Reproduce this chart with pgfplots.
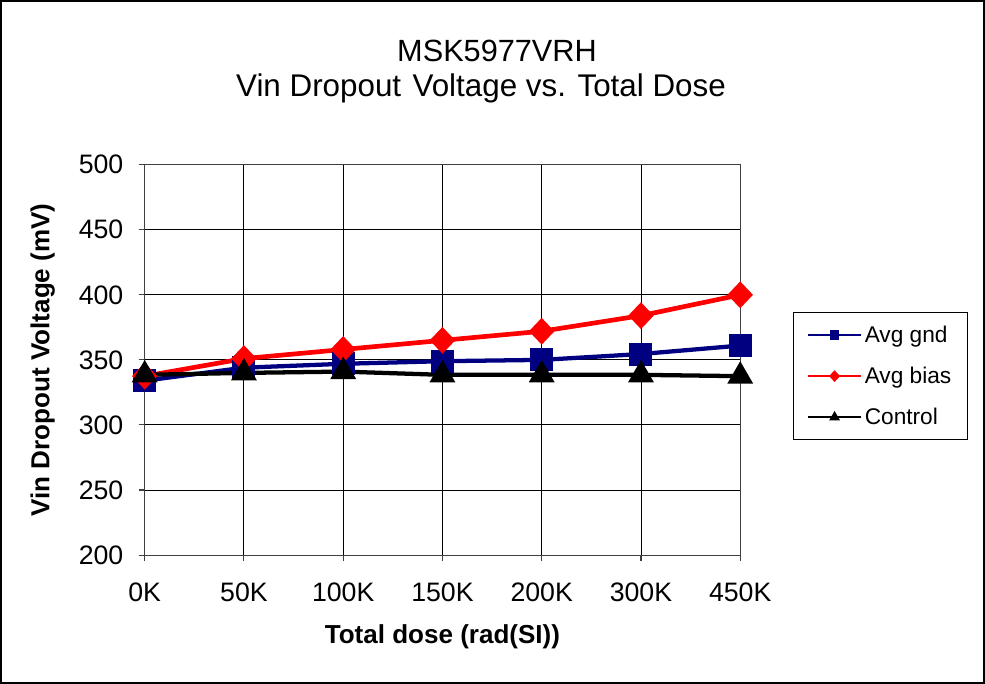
\documentclass[border=0pt]{standalone}
\usepackage{pgfplots}
\pgfplotsset{compat=1.18}
\usepackage{fontspec}
\setmainfont{Liberation Sans}
\definecolor{navyb}{HTML}{000080}
\begin{document}
\begin{tikzpicture}[x=0.75pt,y=0.75pt]
\draw[line width=1.6pt] (1.5,1.5) rectangle (983.5,682.5);
\node[font=\fontsize{23}{26}\selectfont, anchor=base] at (497,622) {MSK5977VRH};
\node[font=\fontsize{23.5}{26}\selectfont, anchor=base] at (481,587) {Vin Dropout\kern2pt{} Voltage vs. Total Dose};
\begin{axis}[
  at={(108.75pt,96.75pt)}, anchor=south west,
  width=446.25pt, height=292.5pt, scale only axis,
  xmin=0, xmax=6, ymin=200, ymax=500,
  xtick={0,...,6},
  xticklabels={0K,50K,100K,150K,200K,300K,450K},
  ytick={200,250,...,500},
  xtick pos=bottom, ytick pos=left,
  grid=major,
  major grid style={black, line width=0.7pt},
  axis line style={black!75, line width=0.8pt},
  tick align=outside, major tick length=4.5pt,
  tick style={black!75, line width=0.8pt},
  /pgf/number format/assume math mode=true,
  ticklabel style={font=\fontsize{20}{24}\selectfont},
  xticklabel style={yshift=-13pt},
  yticklabel style={xshift=-8pt},
  xlabel={\textbf{Total dose (rad(SI))}},
  ylabel={\textbf{Vin Dropout Voltage (mV)}},
  label style={font=\fontsize{19.5}{22}\selectfont},
  xlabel style={yshift=-10pt},
  ylabel style={yshift=11pt},
  clip=false,
  legend style={at={(1.089,0.623)}, anchor=north west, draw=black, line width=0.8pt,
    font=\fontsize{17}{20}\selectfont, row sep=13pt, inner xsep=10pt, inner ysep=8pt},
  legend cell align=left,
  legend image code/.code={\draw[mark repeat=2,mark phase=2,#1] plot coordinates {(0pt,0pt) (20pt,0pt) (40pt,0pt)};},
]
\addlegendimage{navyb, line width=1.2pt, mark=square*, mark size=2.8pt}
\addlegendentry{Avg gnd}
\addlegendimage{red, line width=1.2pt, mark=diamond*, mark size=3.5pt, mark options={xscale=1.27}}
\addlegendentry{Avg bias}
\addlegendimage{black, line width=1.2pt, mark=triangle*, mark size=3.5pt}
\addlegendentry{Control}
\addplot[forget plot, navyb, line width=3.2pt, mark=square*, mark size=7pt] coordinates {
(0,334) (1,344) (2,347) (3,349) (4,350) (5,354.5) (6,361)};
\addplot[forget plot, red, line width=3.5pt, mark=diamond*, mark size=7.5pt, mark options={xscale=1.27}] coordinates {
(0,337.5) (1,351) (2,358) (3,365) (4,372) (5,384) (6,400)};
\addplot[forget plot, black, line width=3.2pt, mark=triangle*, mark size=8pt] coordinates {
(0,338.5) (1,340) (2,341) (3,338.5) (4,338.5) (5,338.5) (6,337.5)};
\end{axis}
\end{tikzpicture}
\end{document}
